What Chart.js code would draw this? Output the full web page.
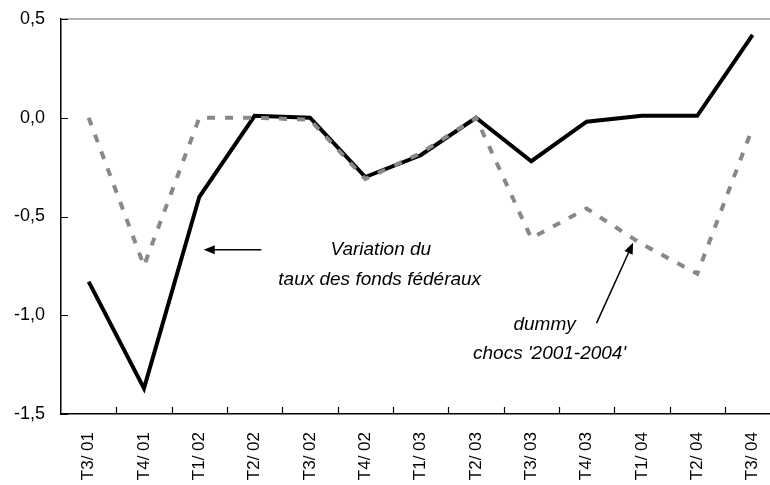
<!DOCTYPE html>
<html>
<head>
<meta charset="utf-8">
<script src="https://cdn.jsdelivr.net/npm/chart.js@4.4.0/dist/chart.umd.min.js"></script>
<style>
  html, body { margin: 0; padding: 0; overflow: hidden; background: #fff; }
  #wrap { width: 783px; height: 485px; }
</style>
</head>
<body>
<div id="wrap"><canvas id="myChart" width="783" height="485"></canvas></div>
<script>
var trimestres = ["T3/ 01", "T4/ 01", "T1/ 02", "T2/ 02", "T3/ 02", "T4/ 02", "T1/ 03", "T2/ 03", "T3/ 03", "T4/ 03", "T1/ 04", "T2/ 04", "T3/ 04"];
var tauxFed = [-0.83, -1.37, -0.40, 0.01, 0.00, -0.30, -0.19, 0.00, -0.22, -0.02, 0.01, 0.01, 0.42];
var dummyChocs = [0.00, -0.75, 0.00, 0.00, -0.01, -0.31, -0.18, 0.00, -0.61, -0.46, -0.64, -0.79, -0.05];
var yTicks = [0.5, 0.0, -0.5, -1.0, -1.5];

var font = "'Liberation Sans', Arial, sans-serif";

// petits traits de graduation vers l'intérieur + ligne grise du haut + annotations
var extras = {
    id: 'extras',
    afterDatasetsDraw: function(chart) {
        var c = chart.ctx, a = chart.chartArea;
        var x = chart.scales.x, y = chart.scales.y;
        c.save();
        c.strokeStyle = '#999';
        c.lineWidth = 1.5;
        c.beginPath();
        c.moveTo(a.left, y.getPixelForValue(0.5));
        c.lineTo(a.right, y.getPixelForValue(0.5));
        c.stroke();

        c.strokeStyle = '#000';
        c.lineWidth = 1.2;
        c.beginPath();
        yTicks.forEach(function(v) {
            var py = Math.round(y.getPixelForValue(v)) + 0.5;
            c.moveTo(a.left, py);
            c.lineTo(a.left + 7, py);
        });
        for (var i = 1; i < trimestres.length; i++) {
            var px = Math.round(x.getPixelForValue(i - 0.5)) + 0.5;
            c.moveTo(px, a.bottom);
            c.lineTo(px, a.bottom - 7);
        }
        c.stroke();

        function arrow(i0, v0, i1, v1) {
            var x0 = x.getPixelForValue(i0), y0 = y.getPixelForValue(v0);
            var x1 = x.getPixelForValue(i1), y1 = y.getPixelForValue(v1);
            var ang = Math.atan2(y1 - y0, x1 - x0);
            c.strokeStyle = '#000';
            c.fillStyle = '#000';
            c.lineWidth = 1.5;
            c.beginPath();
            c.moveTo(x0, y0);
            c.lineTo(x1 - 8 * Math.cos(ang), y1 - 8 * Math.sin(ang));
            c.stroke();
            c.beginPath();
            c.moveTo(x1, y1);
            c.lineTo(x1 - 11 * Math.cos(ang) + 4.5 * Math.sin(ang), y1 - 11 * Math.sin(ang) - 4.5 * Math.cos(ang));
            c.lineTo(x1 - 11 * Math.cos(ang) - 4.5 * Math.sin(ang), y1 - 11 * Math.sin(ang) + 4.5 * Math.cos(ang));
            c.closePath();
            c.fill();
        }
        function label(txt, i, v) {
            c.fillStyle = '#000';
            c.font = 'italic 19px ' + font;
            c.textAlign = 'center';
            c.textBaseline = 'middle';
            c.fillText(txt, x.getPixelForValue(i), y.getPixelForValue(v));
        }
        arrow(3.12, -0.668, 2.08, -0.668);
        label("Variation du", 5.28, -0.67);
        label("taux des fonds fédéraux", 5.26, -0.82);
        arrow(9.18, -1.04, 9.84, -0.633);
        label("dummy", 8.24, -1.05);
        label("chocs '2001-2004'", 8.33, -1.195);
        c.restore();
    }
};

var ctx = document.getElementById('myChart').getContext('2d');
var myChart = new Chart(ctx, {
    type: 'line',
    data: {
        labels: trimestres,
        datasets: [{
                label: "dummy chocs '2001-2004'",
                data: dummyChocs,
                borderWidth: 4,
                borderColor: '#888888',
                borderDash: [8, 10],
                borderCapStyle: 'butt',
                backgroundColor: "transparent",
                pointRadius: 0,
                tension: 0
            },
            {
                label: "Variation du taux des fonds fédéraux",
                data: tauxFed,
                borderWidth: 4,
                borderColor: '#000000',
                backgroundColor: "transparent",
                pointRadius: 0,
                tension: 0
            }
        ]
    },
    options: {
        responsive: false,
        animation: false,
        layout: { padding: { top: 19, right: 0, bottom: 0, left: 0 } },
        plugins: {
            legend: { display: false },
            tooltip: { enabled: false }
        },
        scales: {
            x: {
                offset: true,
                grid: { display: false, offset: true },
                border: { display: true, color: '#000', width: 1.5 },
                ticks: {
                    color: '#000',
                    font: { family: font, size: 17 },
                    minRotation: 90,
                    maxRotation: 90,
                    padding: 10,
                    autoSkip: false
                },
                afterFit: function(s) { s.height = 71; }
            },
            y: {
                min: -1.5,
                max: 0.5,
                grid: { display: false },
                border: { display: true, color: '#000', width: 1.5 },
                afterBuildTicks: function(s) { s.ticks = yTicks.map(function(v) { return { value: v }; }); },
                ticks: {
                    color: '#000',
                    font: { family: font, size: 18 },
                    padding: 8,
                    callback: function(v) { return v.toFixed(1).replace('.', ','); }
                },
                afterFit: function(s) { s.width = 61; }
            }
        }
    },
    plugins: [extras]
});
</script>
</body>
</html>
